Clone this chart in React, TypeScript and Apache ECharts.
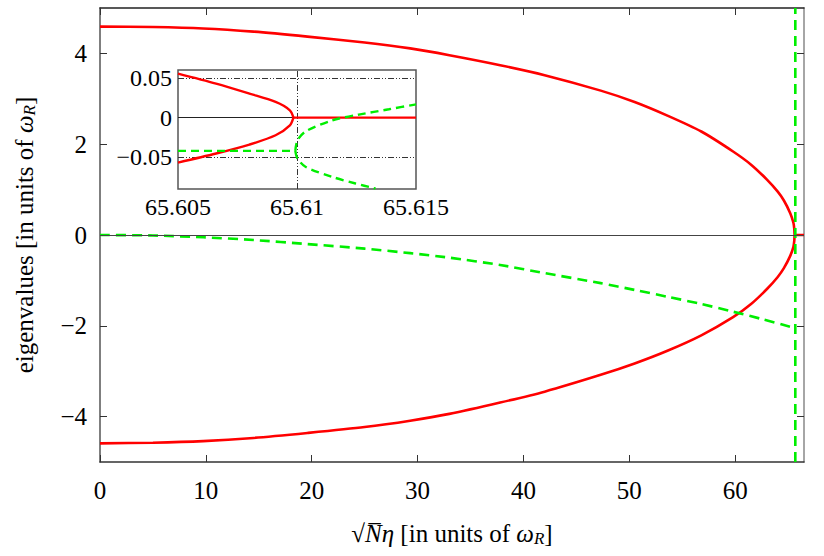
import React, { useEffect, useRef } from "react";
import * as echarts from "echarts";

// ---- main panel data ----
const xTicks = [0, 10, 20, 30, 40, 50, 60];
const yTicks = [-4, -2, 0, 2, 4];

const redUpperX = [0, 5, 9.74, 14.5, 19.6, 25, 29.3, 33, 37.8, 42, 47.3, 50.5, 53.6, 56.8, 59.8, 61.5, 63.0, 64.0, 64.6, 65.2, 65.5, 65.58, 65.61];
const redUpperY = [4.59, 4.58, 4.55, 4.48, 4.37, 4.24, 4.11, 3.96, 3.74, 3.52, 3.18, 2.93, 2.63, 2.28, 1.84, 1.55, 1.22, 0.96, 0.76, 0.48, 0.27, 0.14, 0];

const redLowerX = [0, 5, 9.74, 14.5, 19.6, 25, 29.3, 33, 37.8, 42, 47.3, 50.5, 53.6, 56.8, 59.8, 61.5, 63.0, 64.0, 64.6, 65.2, 65.5, 65.58, 65.61];
const redLowerY = [-4.59, -4.575, -4.54, -4.47, -4.36, -4.23, -4.09, -3.94, -3.69, -3.45, -3.08, -2.83, -2.55, -2.21, -1.81, -1.52, -1.19, -0.93, -0.73, -0.46, -0.26, -0.13, 0];

const redTailX = [65.61, 66.5];
const redTailY = [0, 0];

const greenX = [0, 5, 9.74, 14.5, 19.6, 25, 29.3, 33, 37.8, 42, 47.3, 50.5, 53.6, 56.8, 59.8, 62.5, 65.2, 65.5];
const greenY = [0, -0.01, -0.05, -0.11, -0.2, -0.3, -0.4, -0.5, -0.66, -0.84, -1.06, -1.21, -1.36, -1.52, -1.69, -1.85, -2.02, -2.04];

const greenVertX = [65.68, 65.68];
const greenVertY = [-5, 5];

// ---- inset data ----
const insetXTicks = [65.605, 65.61, 65.615];
const insetYTicks = [-0.05, 0, 0.05];

const insRedUpperX = [65.605, 65.6066, 65.608, 65.6091, 65.6097, 65.60985];
const insRedUpperY = [0.0554, 0.0428, 0.0302, 0.0197, 0.0092, 0];
const insRedLowerX = [65.60985, 65.6097, 65.6091, 65.608, 65.6066, 65.605];
const insRedLowerY = [0, -0.0097, -0.0223, -0.034, -0.0453, -0.0567];
const insRedTailX = [65.60985, 65.615];
const insRedTailY = [0, 0];

const insGreenFlatX = [65.605, 65.60993];
const insGreenFlatY = [-0.042, -0.042];
const insGreenUpX = [65.60993, 65.61002, 65.61037, 65.61149, 65.6126, 65.61386, 65.61495, 65.615];
const insGreenUpY = [-0.042, -0.0286, -0.0173, -0.0034, 0.0038, 0.0105, 0.0164, 0.0166];
const insGreenDownX = [65.60993, 65.61002, 65.61037, 65.61149, 65.61246, 65.6133];
const insGreenDownY = [-0.042, -0.0516, -0.0622, -0.0748, -0.0831, -0.0894];

const zip = (xs: number[], ys: number[]) => xs.map((x, i) => [x, ys[i]]);

const FONT = "Times New Roman";
const CSS_FONT = "'Liberation Serif', 'Times New Roman', serif";
const RED = "#ff0000";
const GREEN = "#00ee00";

const minusFmt = (v: number) => (v < 0 ? "\u2212" + String(Math.abs(v)) : String(v));
const insXFmt = (v: number) => String(Number(v.toFixed(3)));
const insYFmt = (v: number) => (v === 0 ? "0" : (v < 0 ? "\u2212" : "") + Math.abs(v).toFixed(2));

export default function App() {
  const ref = useRef<HTMLDivElement>(null);
  useEffect(() => {
    if (!ref.current) return;
    const chart = echarts.init(ref.current, undefined, { renderer: "svg" });
    const tickStyle = { color: "#333", width: 1 };
    const dashDot = { color: "#333", width: 1, type: [6, 2, 1, 2, 1, 2] as any };
    const lab = (size: number, extra: any) => ({ fontFamily: FONT, fontSize: size, color: "#000", ...extra });
    const option: any = {
      animation: false,
      backgroundColor: "#fff",
      grid: [
        { left: 100, right: 20, top: 8, bottom: 94 },
        {
          left: 178, right: 408, top: 70, bottom: 367,
          show: true, backgroundColor: "#fff", borderColor: "#555", borderWidth: 1.5, z: 3,
        },
      ],
      xAxis: [
        {
          type: "value", gridIndex: 0, min: 0, max: 66.5,
          axisLine: { show: true, onZero: false, lineStyle: { color: "#333", width: 1.5 } },
          axisTick: { show: true, inside: true, length: 7, customValues: xTicks, lineStyle: tickStyle },
          axisLabel: lab(25, { customValues: xTicks, margin: 16 }),
          splitLine: { show: false },
          name: "{r|√}{n|N\u0305}{e|η} [in units of {w|ω}{sub|R}]",
          nameLocation: "middle", nameGap: 58,
          nameTextStyle: {
            fontFamily: FONT, fontSize: 25, color: "#000",
            rich: {
              r: { fontFamily: FONT, fontSize: 25, color: "#000" },
              n: { fontFamily: FONT, fontSize: 25, fontStyle: "italic", color: "#000" },
              e: { fontFamily: FONT, fontSize: 25, fontStyle: "italic", color: "#000" },
              w: { fontFamily: FONT, fontSize: 25, fontStyle: "italic", color: "#000" },
              sub: { fontFamily: FONT, fontSize: 17, fontStyle: "italic", color: "#000", verticalAlign: "bottom", padding: [10, 0, 0, 0] },
            },
          },
        },
        {
          type: "value", gridIndex: 0, min: 0, max: 66.5, position: "top",
          axisLine: { show: true, onZero: false, lineStyle: { color: "#222", width: 1.5 } },
          axisTick: { show: true, inside: true, length: 7, customValues: xTicks, lineStyle: tickStyle },
          axisLabel: { show: false },
          splitLine: { show: false },
        },
        {
          type: "value", gridIndex: 1, min: 65.605, max: 65.615,
          axisLine: { show: false },
          axisTick: { show: false },
          axisLabel: lab(24, { customValues: insetXTicks, margin: 6, formatter: insXFmt }),
          splitLine: { show: false },
        },
      ],
      yAxis: [
        {
          type: "value", gridIndex: 0, min: -5, max: 5,
          axisLine: { show: true, onZero: false, lineStyle: { color: "#555", width: 1.5 } },
          axisTick: { show: true, inside: true, length: 7, customValues: yTicks, lineStyle: tickStyle },
          axisLabel: lab(25, { customValues: yTicks, margin: 13, formatter: minusFmt }),
          splitLine: { show: false },
          name: "eigenvalues [in units of {w|ω}{sub|R}]",
          nameLocation: "middle", nameGap: 62, nameRotate: 90,
          nameTextStyle: {
            fontFamily: FONT, fontSize: 25, color: "#000",
            rich: {
              w: { fontFamily: FONT, fontSize: 25, fontStyle: "italic", color: "#000" },
              sub: { fontFamily: FONT, fontSize: 17, fontStyle: "italic", color: "#000", verticalAlign: "bottom", padding: [10, 0, 0, 0] },
            },
          },
        },
        {
          type: "value", gridIndex: 0, min: -5, max: 5, position: "right",
          axisLine: { show: true, onZero: false, lineStyle: { color: "#888", width: 1.5 } },
          axisTick: { show: true, inside: true, length: 7, customValues: yTicks, lineStyle: tickStyle },
          axisLabel: { show: false },
          splitLine: { show: false },
        },
        {
          type: "value", gridIndex: 1, min: -0.09, max: 0.06,
          axisLine: { show: false },
          axisTick: { show: false },
          axisLabel: lab(24, { customValues: insetYTicks, margin: 6, formatter: insYFmt }),
          splitLine: { show: false },
        },
      ],
      series: [
        {
          type: "line", xAxisIndex: 0, yAxisIndex: 0, data: [], z: 1, silent: true,
          markLine: {
            silent: true, symbol: ["none", "none"], label: { show: false },
            lineStyle: { color: "#444", width: 1, type: "solid" },
            data: [{ yAxis: 0 }],
          },
        },
        {
          type: "line", xAxisIndex: 0, yAxisIndex: 0, data: zip(redUpperX, redUpperY),
          showSymbol: false, smooth: 0.25, lineStyle: { color: RED, width: 2.6 }, z: 3,
        },
        {
          type: "line", xAxisIndex: 0, yAxisIndex: 0, data: zip(redLowerX, redLowerY),
          showSymbol: false, smooth: 0.25, lineStyle: { color: RED, width: 2.6 }, z: 3,
        },
        {
          type: "line", xAxisIndex: 0, yAxisIndex: 0, data: zip(redTailX, redTailY),
          showSymbol: false, lineStyle: { color: RED, width: 2.6 }, z: 3,
        },
        {
          type: "line", xAxisIndex: 0, yAxisIndex: 0, data: zip(greenX, greenY),
          showSymbol: false, smooth: 0.25, lineStyle: { color: GREEN, width: 2.6, type: [10, 6] }, z: 3,
        },
        {
          type: "line", xAxisIndex: 0, yAxisIndex: 0, data: zip(greenVertX, greenVertY),
          showSymbol: false, lineStyle: { color: GREEN, width: 2.6, type: [10, 6] }, z: 3,
        },
        // inset
        {
          type: "line", xAxisIndex: 2, yAxisIndex: 2, data: [], z: 4, silent: true,
          markLine: {
            silent: true, symbol: ["none", "none"], label: { show: false },
            data: [
              { yAxis: 0, lineStyle: { color: "#222", width: 1, type: "solid" } },
              { yAxis: 0.05, lineStyle: dashDot },
              { yAxis: -0.05, lineStyle: dashDot },
              { xAxis: 65.61, lineStyle: dashDot },
            ],
          },
        },
        {
          type: "line", xAxisIndex: 2, yAxisIndex: 2, data: zip(insRedUpperX, insRedUpperY),
          showSymbol: false, smooth: 0.3, lineStyle: { color: RED, width: 2.4 }, z: 5,
        },
        {
          type: "line", xAxisIndex: 2, yAxisIndex: 2, data: zip(insRedLowerX, insRedLowerY),
          showSymbol: false, smooth: 0.3, lineStyle: { color: RED, width: 2.4 }, z: 5,
        },
        {
          type: "line", xAxisIndex: 2, yAxisIndex: 2, data: zip(insRedTailX, insRedTailY),
          showSymbol: false, lineStyle: { color: RED, width: 2.4 }, z: 5,
        },
        {
          type: "line", xAxisIndex: 2, yAxisIndex: 2, data: zip(insGreenFlatX, insGreenFlatY),
          showSymbol: false, lineStyle: { color: GREEN, width: 2.4, type: [8, 5] }, z: 5,
        },
        {
          type: "line", xAxisIndex: 2, yAxisIndex: 2, data: zip(insGreenUpX, insGreenUpY),
          showSymbol: false, smooth: 0.3, lineStyle: { color: GREEN, width: 2.4, type: [8, 5] }, z: 5,
        },
        {
          type: "line", xAxisIndex: 2, yAxisIndex: 2, data: zip(insGreenDownX, insGreenDownY),
          showSymbol: false, smooth: 0.3, lineStyle: { color: GREEN, width: 2.4, type: [8, 5] }, z: 5,
        },
      ],
    };
    chart.setOption(option);

    // Make sure every text of the SVG uses the serif face.
    const fixFonts = () => {
      const root = ref.current;
      if (!root) return;
      root.querySelectorAll("text, tspan").forEach((t: any) => {
        t.style.fontFamily = CSS_FONT;
      });
    };
    fixFonts();
    chart.on("finished", fixFonts);
    const t1 = setTimeout(fixFonts, 30);
    const t2 = setTimeout(fixFonts, 200);
    const t3 = setTimeout(fixFonts, 600);
    return () => {
      clearTimeout(t1);
      clearTimeout(t2);
      clearTimeout(t3);
      chart.dispose();
    };
  }, []);
  return (
    <div
      ref={ref}
      style={{ width: 824, height: 556, position: "absolute", left: 0, top: 0, fontFamily: CSS_FONT }}
    />
  );
}
